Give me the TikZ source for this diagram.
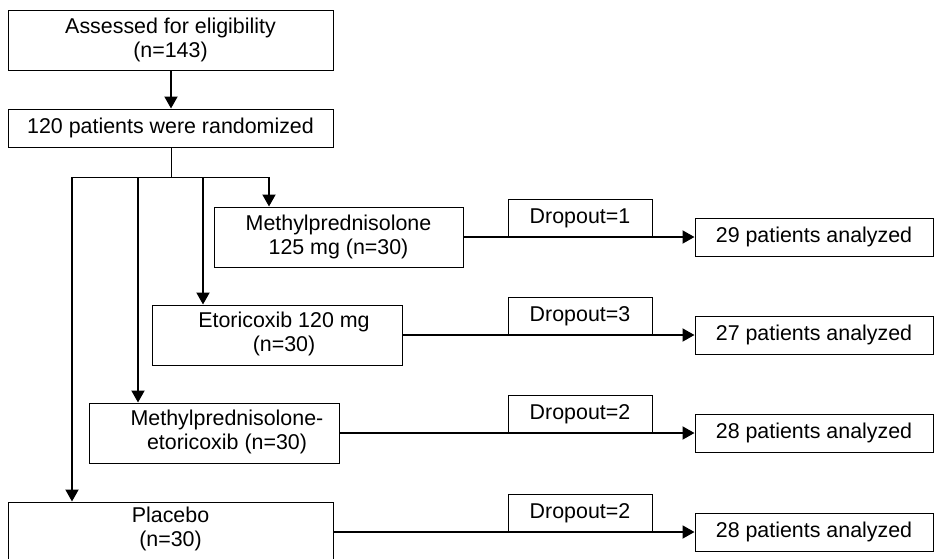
\documentclass[tikz,border=0pt]{standalone}
\usepackage{fontspec}
\setmainfont{Liberation Sans}
\usetikzlibrary{arrows.meta}
\begin{document}
\begin{tikzpicture}[x=1pt,y=-1pt,
  box/.style={draw=black, line width=1pt, inner sep=0pt, align=center,
    font=\fontsize{21.4}{24}\selectfont},
  txt/.style={inner sep=0pt, align=center, font=\fontsize{21.4}{24}\selectfont},
  thin/.style={line width=1pt},
  arr/.style={line width=1.9pt, -{Triangle[length=12pt,width=13pt]}}]
\useasboundingbox (0,0) rectangle (935,558);
% main boxes
\node[box, minimum width=325pt, minimum height=60pt] (assess) at (170.5,40) {Assessed for eligibility\\(n=143)};
\node[box, minimum width=325pt, minimum height=38pt] (rand) at (170.5,128) {120 patients were randomized};
\node[box, minimum width=249pt, minimum height=60pt] (mp) at (338.5,237) {Methylprednisolone\\125 mg (n=30)};
\node[box, minimum width=250pt, minimum height=60pt] (eto) at (277,335) {};
\node[txt] (etot) at (284,334) {Etoricoxib 120 mg\\(n=30)};
\node[box, minimum width=250pt, minimum height=60pt] (mpe) at (214,433) {};
\node[txt] (mpet) at (227,432) {Methylprednisolone-\\etoricoxib (n=30)};
\node[box, minimum width=325pt, minimum height=60pt] (pla) at (170.5,532) {};
\node[txt] (plat) at (170.5,529) {Placebo\\(n=30)};
% dropout boxes
\node[box, minimum width=144pt, minimum height=38pt] (d1) at (580,218) {\raisebox{1.5pt}{Dropout=1}};
\node[box, minimum width=144pt, minimum height=38pt] (d2) at (580,316) {\raisebox{1.5pt}{Dropout=3}};
\node[box, minimum width=144pt, minimum height=38pt] (d3) at (580,414) {\raisebox{1.5pt}{Dropout=2}};
\node[box, minimum width=144pt, minimum height=38pt] (d4) at (580,513) {\raisebox{1.5pt}{Dropout=2}};
% analyzed boxes
\node[box, minimum width=238pt, minimum height=38pt] (a1) at (814,237) {29 patients analyzed};
\node[box, minimum width=238pt, minimum height=38pt] (a2) at (814,335) {27 patients analyzed};
\node[box, minimum width=238pt, minimum height=38pt] (a3) at (814,433) {28 patients analyzed};
\node[box, minimum width=238pt, minimum height=38pt] (a4) at (814,532) {28 patients analyzed};
% branch coordinates
\coordinate (stem) at (171,177);
\coordinate (b1) at (269,177);
\coordinate (b2) at (203,177);
\coordinate (b3) at (138,177);
\coordinate (b4) at (72,177);
% connectors
\draw[arr] (assess.south -| stem) -- (rand.north -| stem);
\draw[thin] (rand.south -| stem) -- (stem);
\draw[thin] (b4) -- (b1);
\draw[arr] (b1) -- (b1 |- mp.north);
\draw[arr] (b2) -- (b2 |- eto.north);
\draw[arr] (b3) -- (b3 |- mpe.north);
\draw[arr] (b4) -- (b4 |- pla.north);
\draw[arr] (mp.east) -- (a1.west);
\draw[arr] (eto.east) -- (a2.west);
\draw[arr] (mpe.east) -- (a3.west);
\draw[arr] (pla.east) -- (a4.west);
\end{tikzpicture}
\end{document}
